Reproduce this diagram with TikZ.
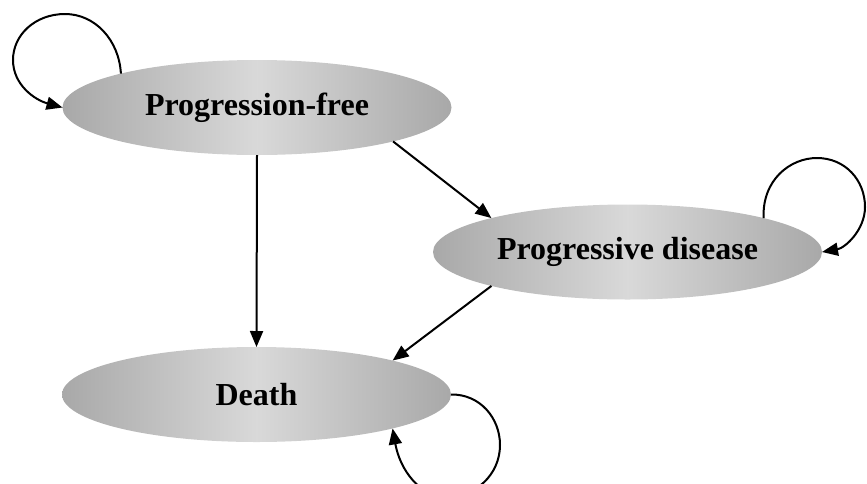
\documentclass[tikz,border=0pt]{standalone}
\usepackage{fontspec}
\setmainfont{Liberation Serif}
\usetikzlibrary{shapes.geometric,arrows.meta}
\tikzset{
  state/.style={ellipse, minimum width=389pt, minimum height=95pt, inner sep=0pt, outer sep=0pt,
    left color=gray!68, right color=gray!68, middle color=gray!30,
    font=\bfseries\fontsize{32}{36}\selectfont},
  arr/.style={line width=2pt, -{Triangle[length=16pt,width=13pt]}}
}
\begin{document}
\begin{tikzpicture}[x=1pt,y=-1pt]
\useasboundingbox (0,0) rectangle (867,483);
\node[state] (pf) at (257,107.5) {Progression-free};
\node[state] (pd) at (627.5,252) {Progressive disease};
\node[state] (death) at (256.5,394.5) {Death};
\draw[arr] (pf.south) -- (death.north);
\draw[arr] (pf.-14) -- (pd.166);
\draw[arr] (pd.194) -- (death.14);
\draw[arr] (pf.166) .. controls (119,40) and (95,14) .. (65,14)
  .. controls (35,14) and (13,35) .. (13,60)
  .. controls (13,85) and (35,100) .. (pf.west);
\draw[arr] (pd.14) .. controls (762,180) and (790,158) .. (817,158)
  .. controls (845,158) and (865,180) .. (865,207)
  .. controls (865,230) and (845,248) .. (pd.east);
\draw[arr] (death.east) .. controls (480,394) and (500,418) .. (500,445)
  .. controls (500,475) and (475,497) .. (447,497)
  .. controls (420,497) and (400,470) .. (death.-14);
\end{tikzpicture}
\end{document}
